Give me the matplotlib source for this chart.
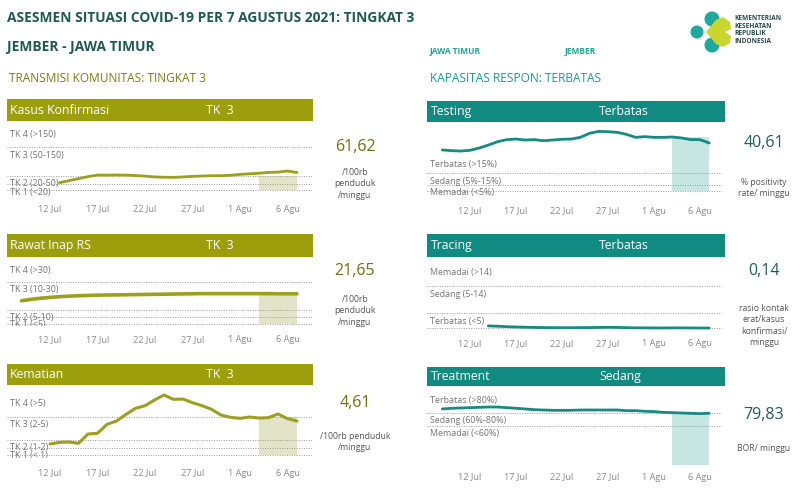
import matplotlib.pyplot as plt
import matplotlib.transforms as mtransforms
from matplotlib.patches import Rectangle, Circle, Polygon
import pandas as pd

plt.rcParams['font.family'] = ['Open Sans', 'DejaVu Sans']

tick_dates = ['2021-07-12', '2021-07-17', '2021-07-22', '2021-07-27', '2021-08-01', '2021-08-06']
tick_labels = ['12 Jul', '17 Jul', '22 Jul', '27 Jul', '1 Agu', '6 Agu']
shade_start = '2021-08-03'
shade_end = '2021-08-07'

kasus_start = '2021-07-13'
kasus = [25.8, 33, 40, 47, 52.8, 52.5, 53, 52.5, 51, 49, 46, 45, 44.6, 46, 48, 49.3,
         50.5, 50.5, 52, 55, 57, 59, 62, 63, 66.9, 61.6]
kasus_levels = [150, 50, 20]
kasus_labels = ['TK 4 (>150)', 'TK 3 (50-150)', 'TK 2 (20-50)', 'TK 1 (<20)']

rawat_start = '2021-07-09'
rawat = [16.6, 17.6, 18.4, 19.0, 19.5, 19.9, 20.2, 20.4, 20.6, 20.7, 20.8, 20.9, 21.0, 21.1, 21.2,
         21.3, 21.4, 21.5, 21.6, 21.7, 21.7, 21.7, 21.7, 21.7, 21.7, 21.7, 21.7, 21.6, 21.6, 21.6]
rawat_levels = [30, 10, 5]
rawat_labels = ['TK 4 (>30)', 'TK 3 (10-30)', 'TK 2 (5-10)', 'TK 1 (<5)']

kematian_start = '2021-07-12'
kematian = [1.47, 1.69, 1.73, 1.56, 2.78, 2.87, 4.04, 4.47, 5.34, 6.13, 6.47, 7.21, 7.86, 7.30,
            7.34, 6.86, 6.47, 6.0, 5.25, 4.95, 4.82, 4.99, 4.86, 4.91, 5.39, 4.78, 4.47]
kematian_levels = [5, 2, 1]
kematian_labels = ['TK 4 (>5)', 'TK 3 (2-5)', 'TK 2 (1-2)', 'TK 1 (< 1)']

testing_start = '2021-07-09'
testing = [34.2, 33.6, 33.3, 33.9, 35.8, 38.3, 41.1, 42.8, 43.3, 42.5, 42.8, 41.9, 42.5, 43.1, 43.3,
           44.7, 48.1, 49.7, 49.4, 48.9, 47.2, 44.7, 45.3, 44.7, 44.7, 45.0, 44.2, 42.8, 42.8, 40.0]
testing_levels = [15, 5]
testing_labels = ['Terbatas (>15%)', 'Sedang (5%-15%)', 'Memadai (<5%)']

tracing_start = '2021-07-14'
tracing = [0.85, 0.75, 0.6, 0.5, 0.42, 0.35, 0.3, 0.28, 0.25, 0.25, 0.28, 0.3, 0.35, 0.4, 0.35,
           0.28, 0.22, 0.2, 0.18, 0.18, 0.2, 0.2, 0.18, 0.16, 0.14]
tracing_levels = [14, 5]
tracing_labels = ['Memadai (>14)', 'Sedang (5-14)', 'Terbatas (<5)']

treatment_start = '2021-07-09'
treatment = [86.2, 87.2, 87.7, 88.2, 88.7, 89.2, 89.2, 88.2, 87.2, 86.2, 85.1, 84.6, 84.1, 84.1, 84.1,
             84.6, 84.6, 84.6, 84.6, 84.6, 83.6, 83.6, 82.6, 82.1, 81.0, 80.5, 80.0, 79.5, 79.0, 79.5]
treatment_levels = [80, 60]
treatment_labels = ['Terbatas (>80%)', 'Sedang (60%-80%)', 'Memadai (<60%)']

# --- Farben ---
OLIVE = '#9c9f0b'
OLIVE_LINE = '#9ca01e'
OLIVE_SHADE = '#e3e4c7'
OLIVE_TEXT = '#6f6f14'
TEAL = '#118b81'
TEAL_LINE = '#168a83'
TEAL_SHADE = '#c6e6e2'
TEAL_TEXT = '#215d58'
DARK = '#1e5a52'
GRAY = '#8a8a8a'

W, H = 800, 500
fig = plt.figure(figsize=(8, 5), dpi=100)
fig.patch.set_facecolor('white')

# Hintergrund-Achse in Pixelkoordinaten fuer Kopfzeilen und Texte
bg = fig.add_axes([0, 0, 1, 1])
bg.set_xlim(0, W)
bg.set_ylim(H, 0)
bg.axis('off')

bg.text(7, 18, 'ASESMEN SITUASI COVID-19 PER 7 AGUSTUS 2021: TINGKAT 3', fontsize=9.9,
        fontweight='bold', color=DARK, va='center')
bg.text(7, 47, 'JEMBER - JAWA TIMUR', fontsize=9.9, fontweight='bold', color=DARK, va='center')
bg.text(9, 79, 'TRANSMISI KOMUNITAS: TINGKAT 3', fontsize=8.6, color='#7b7b1c', va='center')
bg.text(430, 78, 'KAPASITAS RESPON: TERBATAS', fontsize=8.6, color='#1a9a90', va='center')
bg.text(430, 52, 'JAWA TIMUR', fontsize=6, fontweight='bold', color='#22a398', va='center')
bg.text(565, 52, 'JEMBER', fontsize=6, fontweight='bold', color='#22a398', va='center')

# Logo (vereinfacht)
bg.add_patch(Circle((697, 32), 6.5, color='#1fa89c', lw=0))
bg.add_patch(Circle((712, 19), 7.5, color='#1fa89c', lw=0))
bg.add_patch(Circle((712, 45), 7.5, color='#1fa89c', lw=0))
bg.add_patch(Polygon([(706, 32), (716, 20), (723, 17), (730, 22), (731, 29), (725, 32),
                      (731, 36), (730, 43), (723, 47), (716, 44)], closed=True,
                     color='#c9d630', lw=0))
bg.text(734, 30, 'KEMENTERIAN\nKESEHATAN\nREPUBLIK\nINDONESIA', fontsize=4.7, fontweight='bold',
        color='#264a4a', va='center', linespacing=1.15)

sides = {
    'left': dict(head_x=(7, 313), ax_x=(7, 312), name_x=10, status_x=206, value_x=355,
                 xlim=(-4.53, 27.58), color=OLIVE, line=OLIVE_LINE, shade=OLIVE_SHADE,
                 text=OLIVE_TEXT),
    'right': dict(head_x=(427, 725), ax_x=(427, 722), name_x=431, status_x=599, value_x=764,
                  xlim=(-4.67, 27.39), color=TEAL, line=TEAL_LINE, shade=TEAL_SHADE,
                  text=TEAL_TEXT),
}

panels = [
    dict(side='left', name='Kasus Konfirmasi', status='TK  3', values=kasus, start=kasus_start,
         levels=kasus_levels, labels=kasus_labels, baseline=True, shade_top=50,
         value='61,62', unit='/100rb\npenduduk\n/minggu',
         head=(99, 121), ax_y=(125, 197), ylim=(-24.6, 228.9), top_off=13, tick_y=209,
         value_y=147, unit_y=173, lw=2.0),
    dict(side='left', name='Rawat Inap RS', status='TK  3', values=rawat, start=rawat_start,
         levels=rawat_levels, labels=rawat_labels, baseline=True, shade_top=21,
         value='21,65', unit='/100rb\npenduduk\n/minggu',
         head=(234, 257), ax_y=(261, 326), ylim=(-1.43, 45.0), top_off=11, tick_y=340,
         value_y=271, unit_y=300, lw=2.6),
    dict(side='left', name='Kematian', status='TK  3', values=kematian, start=kematian_start,
         levels=kematian_levels, labels=kematian_labels, baseline=True, shade_top=5,
         value='4,61', unit='/100rb penduduk\n/minggu',
         head=(364, 385), ax_y=(388, 457.5), ylim=(-0.29, 8.78), top_off=13, tick_y=473,
         value_y=403, unit_y=437, lw=2.2),
    dict(side='right', name='Testing', status='Terbatas', values=testing, start=testing_start,
         levels=testing_levels, labels=testing_labels, baseline=True, shade_top=45,
         value='40,61', unit='% positivity\nrate/ minggu',
         head=(101, 122), ax_y=(125, 197), ylim=(-5.0, 55.0), top_off=8, tick_y=211,
         value_y=143, unit_y=183, lw=2.0),
    dict(side='right', name='Tracing', status='Terbatas', values=tracing, start=tracing_start,
         levels=tracing_levels, labels=tracing_labels, baseline=True, shade_top=None,
         value='0,14', unit='rasio kontak\nerat/kasus\nkonfirmasi/\nminggu',
         head=(234, 257), ax_y=(260, 331), ylim=(-0.83, 22.6), top_off=14, tick_y=344,
         value_y=271, unit_y=309, lw=2.0),
    dict(side='right', name='Treatment', status='Sedang', values=treatment, start=treatment_start,
         levels=treatment_levels, labels=treatment_labels, baseline=False, shade_top=80,
         value='79,83', unit='BOR/ minggu',
         head=(367, 386), ax_y=(389, 467), ylim=(-3.1, 116.9), top_off=12, tick_y=477,
         value_y=415, unit_y=449, lw=2.0),
]

ref = pd.Timestamp('2021-07-12')


def to_day(d):
    return (pd.Timestamp(d) - ref).days


for p in panels:
    s = sides[p['side']]
    # Kopfzeile
    x0, x1 = s['head_x']
    y0, y1 = p['head']
    bg.add_patch(Rectangle((x0, y0), x1 - x0, y1 - y0, color=s['color'], lw=0))
    yc = (y0 + y1) / 2
    bg.text(s['name_x'], yc, p['name'], color='white', fontsize=8.8, va='center')
    bg.text(s['status_x'], yc, p['status'], color='white', fontsize=8.8, va='center')
    # Kennzahl rechts
    bg.text(s['value_x'], p['value_y'], p['value'], color=s['text'], fontsize=11.5,
            ha='center', va='center')
    bg.text(s['value_x'], p['unit_y'] - 5, p['unit'], color='#555555', fontsize=6.2,
            ha='center', va='top', linespacing=1.35)

    # Diagramm
    ax_l, ax_r = s['ax_x']
    ax_t, ax_b = p['ax_y']
    ax = fig.add_axes([ax_l / W, 1 - ax_b / H, (ax_r - ax_l) / W, (ax_b - ax_t) / H])
    ax.patch.set_alpha(0)
    for sp in ax.spines.values():
        sp.set_visible(False)

    start = to_day(p['start'])
    xs = [start + i for i in range(len(p['values']))]

    if p['shade_top'] is not None:
        ax.fill_between([to_day(shade_start), to_day(shade_end)], 0, p['shade_top'],
                        color=s['shade'], lw=0, zorder=1)

    lines = list(p['levels']) + ([0] if p['baseline'] else [])
    for lv in lines:
        ax.axhline(lv, color='#9a9a9a', ls=(0, (1, 1.5)), lw=0.7, zorder=2)

    ax.plot(xs, p['values'], color=s['line'], lw=p['lw'], zorder=3, solid_capstyle='round')

    # Beschriftung der Stufen
    below = mtransforms.offset_copy(ax.get_yaxis_transform(), fig=fig, x=3, y=-8, units='dots')
    above = mtransforms.offset_copy(ax.get_yaxis_transform(), fig=fig, x=3, y=p['top_off'],
                                    units='dots')
    ax.text(0, p['levels'][0], p['labels'][0], transform=above, fontsize=6.4, color='#747474',
            va='center', clip_on=True)
    for lv, lab in zip(p['levels'], p['labels'][1:]):
        ax.text(0, lv, lab, transform=below, fontsize=6.4, color='#747474', va='center',
                clip_on=True)

    ax.set_xlim(*s['xlim'])
    ax.set_ylim(*p['ylim'])
    ax.set_yticks([])
    ax.set_xticks([to_day(d) for d in tick_dates])
    ax.set_xticklabels(tick_labels)
    pad = (p['tick_y'] - ax_b - 4.5) * 0.72
    ax.tick_params(axis='x', length=0, pad=pad, labelsize=6.6, labelcolor=GRAY)

fig.savefig('out.png', dpi=100, facecolor='white')
